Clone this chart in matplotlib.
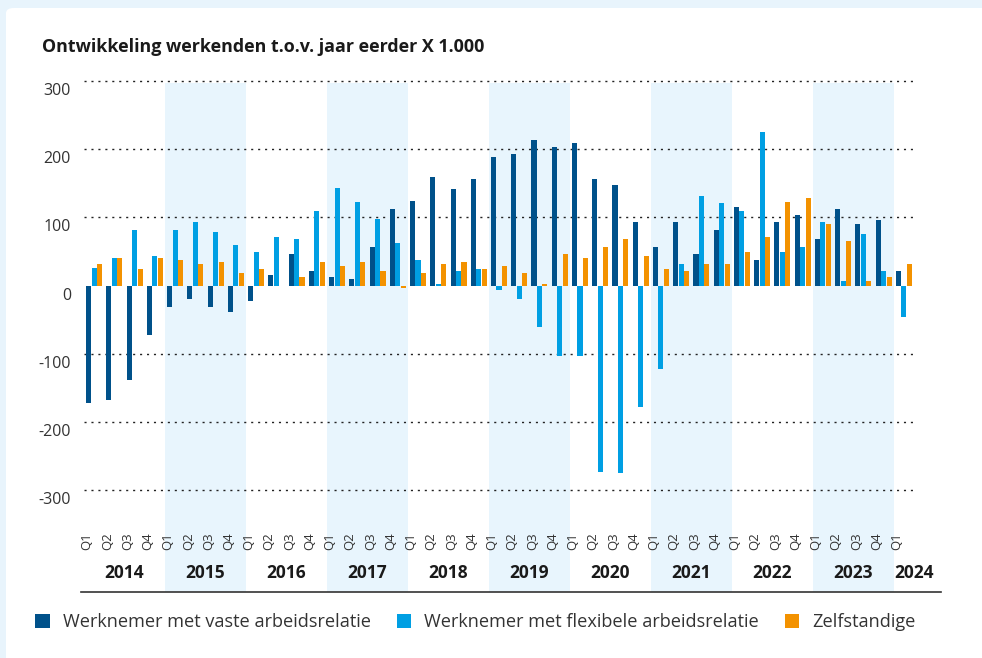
import numpy as np
import matplotlib
matplotlib.use("Agg")
import matplotlib.pyplot as plt
from matplotlib.patches import Rectangle, FancyBboxPatch, Patch
from matplotlib.lines import Line2D
from matplotlib.transforms import blended_transform_factory

plt.rcParams['font.family'] = ['Open Sans', 'DejaVu Sans']

# data (x 1.000, change vs. same quarter a year earlier)
years = ['2014', '2015', '2016', '2017', '2018', '2019', '2020', '2021', '2022', '2023', '2024']
quarters = ['Q1', 'Q2', 'Q3', 'Q4'] * 10 + ['Q1']

vast = [-172, -168, -138, -72,
        -31, -19, -31, -38,
        -22, 15, 47, 21,
        13, 10, 56, 112,
        124, 159, 141, 157,
        188, 193, 213, 204,
        209, 157, 147, 94,
        56, 94, 47, 81,
        116, 38, 94, 103,
        68, 113, 90, 96,
        21]
flex = [26, 41, 82, 44,
        81, 94, 78, 60,
        49, 72, 69, 109,
        143, 122, 97, 63,
        38, 3, 21, 25,
        -7, -19, -60, -103,
        -103, -274, -275, -178,
        -122, 32, 132, 121,
        110, 226, 50, 56,
        94, 7, 75, 21,
        -46]
zelf = [31, 41, 25, 41,
        37, 31, 34, 19,
        25, -1, 12, 35,
        29, 35, 22, -3,
        18, 31, 34, 25,
        29, 19, 3, 47,
        40, 56, 69, 44,
        25, 22, 31, 31,
        49, 72, 122, 129,
        91, 65, 7, 13,
        32]

series_names = ['Werknemer met vaste arbeidsrelatie',
                'Werknemer met flexibele arbeidsrelatie',
                'Zelfstandige']
colors = ['#00518A', '#009FE3', '#F39200']
band_color = '#E8F5FD'
text_color = '#333333'

W, H = 982, 658
fig = plt.figure(figsize=(W / 100, H / 100), dpi=100)
fig.patch.set_facecolor('#E8F4FC')


def fx(px):
    return px / W


def fy(py):
    return 1 - py / H


# white card
card = FancyBboxPatch((fx(6), -0.05), 1.05, fy(8) + 0.05,
                      boxstyle="round,pad=0,rounding_size=0.008",
                      transform=fig.transFigure, facecolor='white',
                      edgecolor='none', zorder=-10)
fig.patches.append(card)

ax = fig.add_axes([fx(84), fy(497), fx(914) - fx(84), fy(79) - fy(497)])
ax.set_facecolor('none')
ax.set_zorder(1)

x = np.arange(len(vast))
w = 0.25
ax.bar(x - 0.27, vast, w, color=colors[0], zorder=3)
ax.bar(x, flex, w, color=colors[1], zorder=3)
ax.bar(x + 0.27, zelf, w, color=colors[2], zorder=3)

ax.set_xlim(-0.5, len(vast) - 0.5)
ax.set_ylim(-310, 303)

for v in [300, 200, 100, -100, -200, -300]:
    ax.axhline(v, color='#222222', lw=1.0, ls=(0, (1.5, 3.5)), zorder=1)

for s in ax.spines.values():
    s.set_visible(False)
ax.set_xticks([])
ax.set_yticks([])

# y labels, sitting a bit below the grid lines
for v in [300, 200, 100, 0, -100, -200, -300]:
    ax.annotate(str(v), xy=(0, v), xycoords=('axes fraction', 'data'),
                xytext=(-13, -10), textcoords='offset pixels',
                ha='right', va='center', fontsize=11.5, color=text_color)

# shaded year bands (every other year), running down through the labels
bt = blended_transform_factory(ax.transData, fig.transFigure)
for k in range(1, 10, 2):
    r = Rectangle((4 * k - 0.5, fy(592)), 4, fy(83) - fy(592), transform=bt,
                  facecolor=band_color, edgecolor='none', zorder=0, clip_on=False)
    ax.add_patch(r)

# quarter labels
for i, q in enumerate(quarters):
    ax.text(i - 0.35, fy(541), q, transform=bt, rotation=90, ha='center',
            va='center', fontsize=9.5, color=text_color)

# year labels
for k, yr in enumerate(years):
    xc = 4 * k + 1.5 if k < 10 else 40.5
    ax.text(xc, fy(573), yr, transform=bt, ha='center', va='center',
            fontsize=12.5, fontweight='bold', color='#1a1a1a')

fig.add_artist(Line2D([fx(81), fx(941)], [fy(592), fy(592)],
                      transform=fig.transFigure, color='#333333', lw=1.2))

fig.text(fx(42), fy(47), 'Ontwikkeling werkenden t.o.v. jaar eerder X 1.000',
         ha='left', va='center', fontsize=12.9, fontweight='bold', color='#1a1a1a')

handles = [Patch(facecolor=c, edgecolor='none') for c in colors]
fig.legend(handles, series_names, loc='center left',
           bbox_to_anchor=(fx(19), fy(622)), ncol=3, frameon=False,
           fontsize=13.1, handlelength=0.8, handleheight=0.8,
           handletextpad=0.7, columnspacing=1.43, labelcolor=text_color)

fig.savefig('out.png', dpi=100)
